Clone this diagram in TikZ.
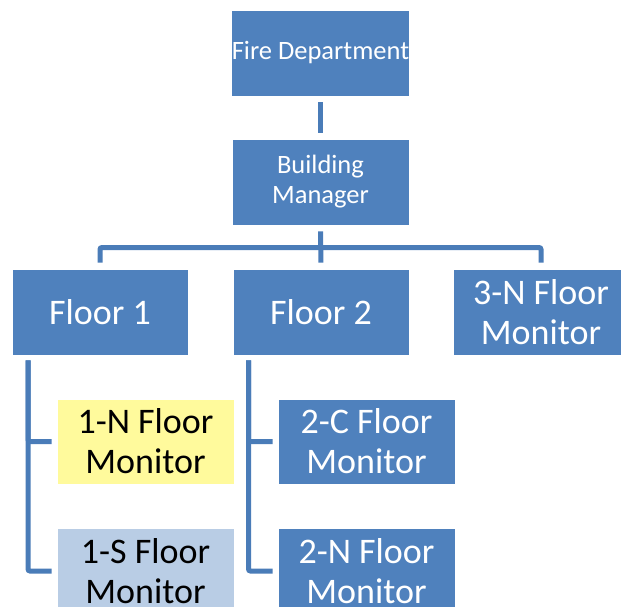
\documentclass[tikz,border=0pt]{standalone}
\usepackage{fontspec}
\setmainfont{Carlito}
\definecolor{boxblue}{HTML}{4F81BD}
\definecolor{linkblue}{HTML}{4A7CB8}
\definecolor{paleyellow}{HTML}{FFFA9C}
\definecolor{paleblue}{HTML}{B9CDE5}
\tikzset{
  orgbox/.style={rectangle, fill=boxblue, draw=white, line width=0.6pt, text=white, inner sep=0pt, align=center},
  smalltext/.style={font=\fontsize{26.5}{30}\selectfont},
  bigtext/.style={font=\fontsize{36}{40}\selectfont},
  conn/.style={draw=linkblue, line width=5pt},
  gap/.style={shorten <=6pt, shorten >=6pt}
}
\begin{document}
\begin{tikzpicture}[x=1pt,y=-1pt]
\clip (0,0) rectangle (621,607);
\fill[white] (0,0) rectangle (621,607);
% top level
\node[orgbox, smalltext, minimum width=177pt, minimum height=86pt] (fd) at (320.5,53) {Fire Department};
\node[orgbox, smalltext, minimum width=177pt, minimum height=86pt] (bm) at (320.5,182) {Building\\Manager};
% floors
\node[orgbox, bigtext, minimum width=176pt, minimum height=86pt] (f1) at (100,312) {Floor 1};
\node[orgbox, bigtext, minimum width=176pt, minimum height=86pt] (f2) at (321,312) {Floor 2};
\node[orgbox, bigtext, minimum width=176pt, minimum height=86pt] (f3) at (541,312) {3-N Floor\\Monitor};
% monitors
\node[orgbox, bigtext, fill=paleyellow, text=black, minimum width=177pt, minimum height=85pt] (n1) at (145.5,441.5) {1-N Floor\\Monitor};
\node[orgbox, bigtext, fill=paleblue, text=black, minimum width=177pt, minimum height=86pt] (s1) at (145.5,571) {1-S Floor\\Monitor};
\node[orgbox, bigtext, minimum width=177pt, minimum height=85pt] (c2) at (366.5,441.5) {2-C Floor\\Monitor};
\node[orgbox, bigtext, minimum width=177pt, minimum height=86pt] (n2) at (366.5,571) {2-N Floor\\Monitor};
% connectors
\coordinate (bus) at (320.5,247.5);
\draw[conn, gap] (fd.south) -- (bm.south |- bm.north);
\draw[conn, gap] (bm.south) -- (f2.north);
\draw[conn, rounded corners=2pt] ([yshift=6pt]f1.north) |- (bus) -| ([yshift=6pt]f3.north);
\draw[conn, rounded corners=2pt] ([shift={(-72pt,-5pt)}]f1.south) |- ([xshift=-5pt]n1.west);
\draw[conn, rounded corners=2pt] ([shift={(-72pt,-5pt)}]f1.south) |- ([xshift=-5pt]s1.west);
\draw[conn, rounded corners=2pt] ([shift={(-72.5pt,-5pt)}]f2.south) |- ([xshift=-5pt]c2.west);
\draw[conn, rounded corners=2pt] ([shift={(-72.5pt,-5pt)}]f2.south) |- ([xshift=-5pt]n2.west);
\end{tikzpicture}
\end{document}
